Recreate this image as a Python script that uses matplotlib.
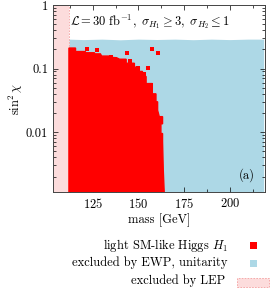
import matplotlib
matplotlib.use("Agg")
import matplotlib.pyplot as plt
from matplotlib.patches import Rectangle
from matplotlib.ticker import FixedLocator, FuncFormatter, LogLocator, MultipleLocator

plt.rcParams['font.family'] = 'serif'
plt.rcParams['font.serif'] = ['cmr10']
plt.rcParams['mathtext.fontset'] = 'cm'
plt.rcParams['axes.unicode_minus'] = False
plt.rcParams['axes.formatter.use_mathtext'] = True

# LEP exclusion: masses below this are excluded
lep_limit = 112.0

# upper edge of the EWP / unitarity excluded band (mass, sin^2 chi)
ewp_mass = [112.0, 120, 130, 140, 150, 160, 170, 180, 190, 200, 210, 218.5]
ewp_sin2 = [0.29, 0.285, 0.29, 0.283, 0.29, 0.286, 0.29, 0.284, 0.29, 0.285, 0.29, 0.29]

# outline of the allowed light SM-like Higgs region (mass, sin^2 chi)
h1_mass = [112.0, 112.0, 115.6, 115.6, 121.0, 121.0, 126.0, 126.0, 129.2, 129.9,
           134.0, 134.0, 138.0, 139.7, 143.3, 143.3, 147.8, 147.8, 150.5, 150.5,
           152.2, 152.2, 154.2, 154.2, 157.6, 157.6, 159.6, 159.6, 160.5, 160.5,
           161.4, 163.2, 163.2, 162.3, 162.3, 163.2, 163.2, 163.6, 164.1]
h1_sin2 = [0.00114, 0.21, 0.21, 0.185, 0.185, 0.177, 0.177, 0.17, 0.17, 0.157,
           0.157, 0.15, 0.148, 0.14, 0.14, 0.121, 0.121, 0.105, 0.105, 0.09,
           0.09, 0.075, 0.075, 0.058, 0.058, 0.040, 0.040, 0.030, 0.030, 0.022,
           0.0175, 0.0175, 0.0135, 0.0135, 0.0095, 0.0095, 0.0071, 0.0025, 0.00114]

# isolated scan points above the dense region
h1_out_mass = [122.0, 127.2, 134.8, 143.7, 157.4, 160.5, 149.6, 155.4, 156.9, 145.5, 153.0]
h1_out_sin2 = [0.205, 0.196, 0.154, 0.174, 0.201, 0.177, 0.101, 0.101, 0.055, 0.13, 0.083]

xmin, xmax = 103.3, 219.2
ymin, ymax = 0.00114, 1.0

fig = plt.figure(figsize=(2.72, 2.91), dpi=100)
ax = fig.add_axes([0.195, 0.340, 0.779, 0.643])

red = '#ff0000'
blue = '#add8e6'
pink = '#fcdcdc'
fs = 9

# LEP band
ax.axvspan(xmin, lep_limit, color=pink, lw=0, zorder=1)
ax.axvline(lep_limit, color='#f4a0a0', lw=0.6, ls=(0, (2, 1.5)), zorder=2)

# EWP band
ax.fill_between(ewp_mass, ymin, ewp_sin2, color=blue, lw=0, zorder=1)

# light Higgs region
ax.fill(h1_mass, h1_sin2, color=red, lw=1.0, ec=red, zorder=3)
ax.scatter(h1_out_mass, h1_out_sin2, marker='s', s=10, color=red, lw=0, zorder=3)

ax.set_yscale('log')
ax.set_xlim(xmin, xmax)
ax.set_ylim(ymin, ymax)

ax.xaxis.set_major_locator(FixedLocator([125, 150, 175, 200]))
ax.xaxis.set_minor_locator(MultipleLocator(12.5))
ax.yaxis.set_major_locator(FixedLocator([0.01, 0.1, 1]))
ax.yaxis.set_minor_locator(LogLocator(base=10, subs=range(2, 10)))
ax.yaxis.set_major_formatter(FuncFormatter(lambda v, p: {0.01: '0.01', 0.1: '0.1', 1: '1'}.get(round(v, 3), '')))
ax.yaxis.set_minor_formatter(FuncFormatter(lambda v, p: ''))

ax.tick_params(which='both', direction='in', top=True, right=True, labelsize=fs, width=0.5)
ax.tick_params(which='major', length=3.5)
ax.tick_params(which='minor', length=2)
for s in ax.spines.values():
    s.set_linewidth(0.7)
    s.set_color('#444444')

ax.set_xlabel('mass [GeV]', fontsize=fs, labelpad=2)
ax.set_ylabel(r'$\sin^2\chi$', fontsize=fs, labelpad=1)

ax.text(0.08, 0.909, r'$\mathcal{L} = 30\ \mathrm{fb}^{-1},\ \sigma_{H_1} \geq 3,\ \sigma_{H_2} \leq 1$',
        transform=ax.transAxes, fontsize=fs, va='center', ha='left')
ax.text(0.915, 0.09, '(a)', transform=ax.transAxes, fontsize=fs, va='center', ha='center')

# legend below the axes, text right aligned, key on the right
W, H = 272.0, 291.0
labels = [r'light SM-like Higgs $H_1$', 'excluded by EWP, unitarity', 'excluded by LEP']
rows_y = [245, 263, 281]
text_x = [228, 228, 225]
for lab, yy, tx in zip(labels, rows_y, text_x):
    fig.text(tx / W, 1 - yy / H, lab, fontsize=fs, ha='right', va='center')
fig.add_artist(Rectangle((249.5 / W, 1 - 248.5 / H), 7 / W, 7 / H, transform=fig.transFigure,
                         color=red, lw=0))
fig.add_artist(Rectangle((249.5 / W, 1 - 266.5 / H), 7 / W, 7 / H, transform=fig.transFigure,
                         color=blue, lw=0))
fig.add_artist(Rectangle((237 / W, 1 - 286.5 / H), 32 / W, 9 / H, transform=fig.transFigure,
                         facecolor=pink, edgecolor='#f4a0a0', lw=0.6, ls=(0, (2, 1.5))))

fig.savefig('out.png', dpi=100)
